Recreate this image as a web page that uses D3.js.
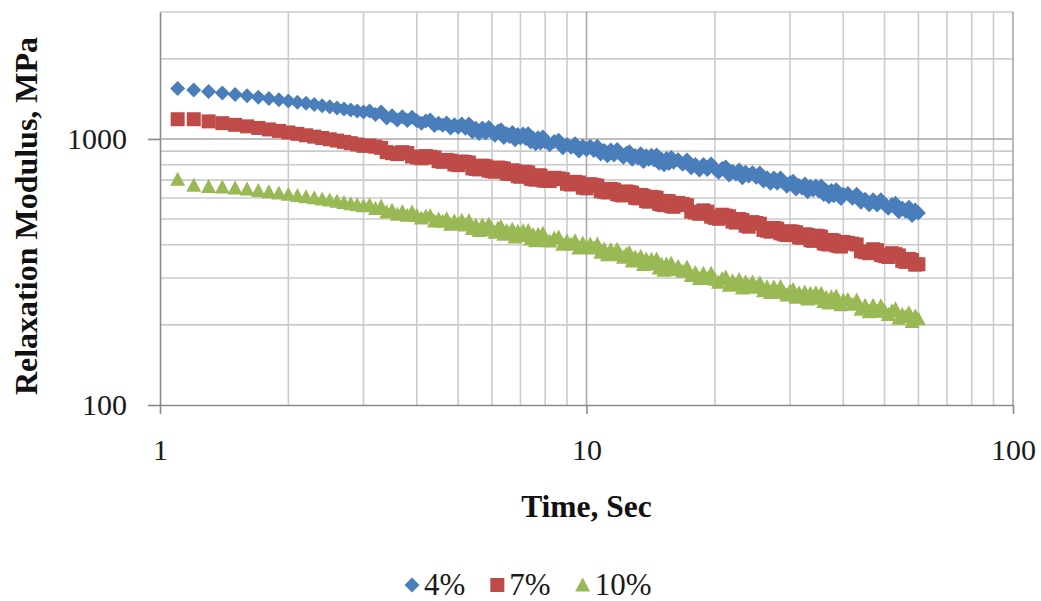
<!DOCTYPE html>
<html><head><meta charset="utf-8">
<script src="https://cdn.jsdelivr.net/npm/d3@7"></script>
<style>html,body{margin:0;padding:0;background:#fff;} svg{display:block;}</style>
</head><body><svg id="chart" width="1041" height="601"></svg>
<script>
// ---- data ----
const time = [1.1,1.2,1.3,1.4,1.5,1.6,1.7,1.8,1.9,2.0,
  2.1,2.2,2.3,2.4,2.5,2.6,2.7,2.8,2.9,3.0,
  3.1,3.2,3.3,3.4,3.5,3.6,3.7,3.8,3.9,4.0,
  4.1,4.2,4.3,4.4,4.5,4.6,4.7,4.8,4.9,5.0,
  5.1,5.2,5.3,5.4,5.5,5.6,5.7,5.8,5.9,6.0,
  6.1,6.2,6.3,6.4,6.5,6.6,6.7,6.8,6.9,7.0,
  7.1,7.2,7.3,7.4,7.5,7.6,7.7,7.8,7.9,8.0,
  8.2,8.4,8.6,8.8,9.0,9.2,9.4,9.6,9.8,10.0,
  10.2,10.4,10.6,10.8,11.0,11.2,11.4,11.6,11.8,12.0,
  12.2,12.4,12.6,12.8,13.0,13.2,13.4,13.6,13.8,14.0,
  14.2,14.4,14.6,14.8,15.0,15.2,15.4,15.6,15.8,16.0,
  16.4,16.8,17.2,17.6,18.0,18.4,18.8,19.2,19.6,20.0,
  20.4,20.8,21.2,21.6,22.0,22.4,22.8,23.2,23.6,24.0,
  24.5,25,25.5,26,26.5,27,27.5,28,28.5,29,29.5,30,30.5,31,31.5,32,
  32.5,33,33.5,34,34.5,35,35.5,36,36.5,37,37.5,38,38.5,39,39.5,40,
  41,42,43,44,45,46,47,48,49,50,51,52,53,54,55,56,57,58,59,60];

const modulus4 = [1546,1526,1507,1488,1470,1452,1436,1420,1405,1390,
  1375,1361,1347,1334,1321,1308,1296,1285,1273,1262,
  1274,1236,1263,1200,1221,1178,1212,1172,1207,1170,
  1145,1169,1177,1123,1145,1126,1149,1099,1131,1106,
  1138,1096,1137,1064,1096,1048,1099,1053,1104,1062,
  1032,1068,1082,1013,1045,1022,1058,992,1040,1008,
  1044,1003,1045,973,1006,959,1011,966,1018,977,
  951,978,988,927,953,931,959,901,939,910,
  939,904,939,878,905,865,908,870,913,877,
  854,884,896,838,867,848,879,823,864,838,
  868,834,871,811,839,800,844,808,852,817,
  836,804,834,779,802,764,802,767,805,772,
  749,775,785,732,756,738,765,714,750,725,
  747,718,744,695,714,681,713,682,713,684,664,685,694,648,669,654,
  677,633,664,643,666,638,665,618,639,607,640,611,644,616,597,620,
  623,598,619,578,593,566,591,565,591,566,549,567,573,533,550,535,554,516,541,527];

const modulus7 = [1186,1186,1164,1146,1130,1115,1100,1086,1072,1058,
  1045,1032,1020,1008,997,986,975,964,953,942,
  945,935,926,892,884,877,892,885,859,852,
  846,862,857,852,825,820,834,829,802,797,
  823,819,815,775,771,768,794,790,760,756,
  753,781,777,774,742,739,762,758,724,721,
  753,750,748,709,706,703,730,728,699,696,
  695,715,711,706,678,674,690,686,656,652,
  676,672,668,636,633,629,649,645,620,616,
  613,635,631,628,601,598,616,612,584,581,
  606,603,601,570,567,564,585,583,559,556,
  575,570,564,533,528,523,539,533,510,505,
  501,519,515,512,489,485,500,496,472,468,
  487,483,480,455,452,448,463,460,442,438,435,450,448,446,427,425,
  438,436,416,414,433,431,429,405,403,401,417,415,398,396,394,410,
  407,404,401,378,375,372,385,382,366,363,360,372,369,365,348,345,354,351,337,338];

const modulus10 = [705,670,662,660,654,648,640,633,626,619,
  613,607,601,595,589,583,577,571,566,561,
  565,548,558,531,539,521,534,517,531,515,
  504,513,516,492,500,491,501,478,492,480,
  495,475,494,461,475,453,476,456,478,460,
  446,463,469,438,452,442,458,428,450,435,
  452,434,453,421,436,414,438,418,442,424,
  413,424,428,402,413,402,414,389,406,392,
  403,389,403,375,386,367,384,368,385,368,
  359,370,374,348,360,350,362,337,354,341,
  353,339,354,327,338,321,339,323,341,325,
  332,318,330,307,315,299,313,299,313,297,
  289,299,303,282,293,284,296,275,290,280,
  290,277,288,269,278,265,278,265,279,266,259,268,272,254,264,256,
  266,250,263,254,264,252,263,245,254,242,255,243,257,245,238,248,
  249,239,248,229,237,224,237,225,236,226,219,226,230,212,219,215,222,206,216,211];

const seriesNames = ["4%", "7%", "10%"];
const seriesShapes = ["diamond", "square", "triangle"];
const seriesColors = ["#4A7EBB", "#BE4B48", "#98B954"];
const xTickValues = [1, 10, 100];
const yTickValues = [100, 1000];
const xMinorValues = [2,3,4,5,6,7,8,9,20,30,40,50,60,70,80,90];
const yMinorValues = [200,300,400,500,600,700,800,900,2000,3000];
const xTitle = "Time, Sec";
const yTitle = "Relaxation Modulus, MPa";

// ---- layout ----
const W = 1041, H = 601;
const plot = {left: 160, right: 1013, top: 12, bottom: 405};
const FONT = "'Liberation Serif','Times New Roman',serif";

const svg = d3.select("#chart");
svg.append("rect").attr("width", W).attr("height", H).attr("fill", "#fff");

const x = d3.scaleLog().domain([1, 100]).range([plot.left, plot.right]);
const y = d3.scaleLog().domain([100, 3000]).range([plot.bottom, plot.top]);

const grid = svg.append("g");
grid.selectAll("line.vmin").data(xMinorValues).join("line")
  .attr("x1", d => x(d)).attr("x2", d => x(d))
  .attr("y1", plot.top).attr("y2", plot.bottom)
  .attr("stroke", "#cbcbcb").attr("stroke-width", 1.6);
grid.selectAll("line.hmin").data(yMinorValues).join("line")
  .attr("x1", plot.left).attr("x2", plot.right)
  .attr("y1", d => y(d)).attr("y2", d => y(d))
  .attr("stroke", "#cbcbcb").attr("stroke-width", 1.6);
grid.selectAll("line.vmaj").data(xTickValues.filter(d => d > 1)).join("line")
  .attr("x1", d => x(d)).attr("x2", d => x(d))
  .attr("y1", plot.top).attr("y2", plot.bottom)
  .attr("stroke", "#a8a8a8").attr("stroke-width", 1.6);
grid.selectAll("line.hmaj").data(yTickValues.filter(d => d > 100)).join("line")
  .attr("x1", plot.left).attr("x2", plot.right)
  .attr("y1", d => y(d)).attr("y2", d => y(d))
  .attr("stroke", "#a8a8a8").attr("stroke-width", 1.6);

// axes
const xAxis = d3.axisBottom(x).tickValues(xTickValues).tickFormat(d3.format("d"))
  .tickSizeInner(9).tickSizeOuter(0).tickPadding(25);
const yAxis = d3.axisLeft(y).tickValues(yTickValues).tickFormat(d3.format("d"))
  .tickSizeInner(12).tickSizeOuter(0).tickPadding(21);

const gx = svg.append("g").attr("transform", `translate(0,${plot.bottom})`).call(xAxis);
const gy = svg.append("g").attr("transform", `translate(${plot.left},0)`).call(yAxis);
[gx, gy].forEach(g => {
  g.select(".domain").attr("stroke", "#8a8a8a").attr("stroke-width", 1.6);
  g.selectAll(".tick line").attr("stroke", "#8a8a8a").attr("stroke-width", 1.6);
  g.selectAll(".tick text").attr("fill", "#1a1a1a").style("font-family", FONT).style("font-size", "30px");
});

// shapes
function shapePath(kind, cx, cy, s) {
  if (kind === "diamond") return `M${cx},${cy - s}L${cx + s},${cy}L${cx},${cy + s}L${cx - s},${cy}Z`;
  if (kind === "square") return `M${cx - s + 0.5},${cy - s + 0.5}h${2 * s - 1}v${2 * s - 1}h${-(2 * s - 1)}Z`;
  return `M${cx},${cy - s}L${cx + s},${cy + s - 1}L${cx - s},${cy + s - 1}Z`;
}

const seriesValues = [modulus4, modulus7, modulus10];
seriesValues.forEach((vals, i) => {
  const n = Math.min(time.length, vals.length);
  const pts = time.slice(0, n).map((t, j) => ({t, v: vals[j]}));
  svg.append("g").selectAll("path").data(pts).join("path")
    .attr("d", d => shapePath(seriesShapes[i], x(d.t), y(d.v), 7.5))
    .attr("fill", seriesColors[i]);
});

// axis titles
svg.append("text").attr("x", (plot.left + plot.right) / 2).attr("y", 517)
  .attr("text-anchor", "middle").style("font-family", FONT).style("font-size", "31.5px")
  .style("font-weight", "bold").attr("fill", "#111").text(xTitle);
svg.append("text").attr("transform", `translate(37,216) rotate(-90)`)
  .attr("text-anchor", "middle").style("font-family", FONT).style("font-size", "32px")
  .style("font-weight", "bold").attr("fill", "#111").text(yTitle);

// legend
const legend = svg.append("g");
let cursor = 405;
seriesNames.forEach((name, i) => {
  legend.append("path").attr("d", shapePath(seriesShapes[i], cursor + 7, 585, 7.5)).attr("fill", seriesColors[i]);
  const t = legend.append("text").attr("x", cursor + 19).attr("y", 595)
    .style("font-family", FONT).style("font-size", "31px").attr("fill", "#1a1a1a").text(name);
  cursor = cursor + 19 + t.node().getComputedTextLength() + 25;
});
</script>
</body></html>
